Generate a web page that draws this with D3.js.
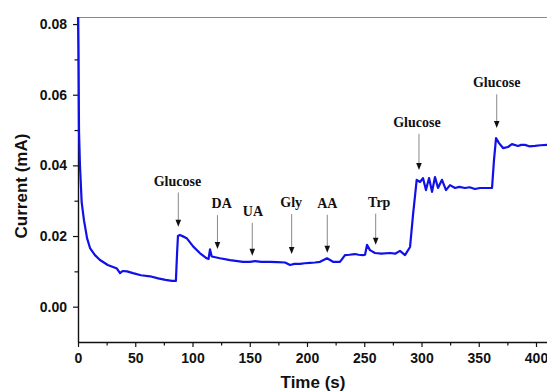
<!DOCTYPE html>
<html>
<head>
<meta charset="utf-8">
<script src="https://d3js.org/d3.v7.min.js"></script>
<style>
  body { margin: 0; background: #fff; }
  svg { display: block; }
  .tick text { font-family: Arial, "Liberation Sans", sans-serif; font-weight: bold; font-size: 14px; fill: #111; }
  .axis-title { font-family: Arial, "Liberation Sans", sans-serif; font-weight: bold; font-size: 17px; fill: #111; }
  .note { font-family: "Times New Roman", "Liberation Serif", serif; font-weight: bold; font-size: 14px; fill: #111; }
</style>
</head>
<body>
<svg id="chart" width="547" height="392"></svg>
<script>
// amperometric response
var time = [0, 0.4, 0.9, 1.7, 3.2, 5.2, 7.9, 10.5, 14.8, 19.2, 26, 34, 36.7, 39, 42.8, 48, 55, 62.9, 70, 76.4, 82, 85.5,
  86.5, 87.3, 89, 91.7, 94.9, 100.7, 106.6, 112.4, 114, 115.3, 116.8, 124, 132.8, 144.1, 150.2, 154.6, 160, 167.7,
  174, 180.8, 185.2, 189, 193.9, 198, 202.6, 207, 211.4, 217.5, 222.7, 228.8, 233.2, 237, 241.9, 245, 248.9, 250.7,
  252.4, 255, 259.4, 265, 272.5, 277, 281.2, 285.6, 290, 292.6, 295.8, 298.7, 301.3, 303.9, 306.6, 309.2, 311.8,
  314.4, 317.9, 321.4, 324.9, 329.3, 333, 338, 342, 346.7, 351, 355.5, 361.6, 363.3, 365.1, 367.7, 371.2, 375.5,
  379, 384.3, 387, 390.4, 394, 399.1, 404, 409.6, 415];
var current = [0.0820, 0.0721, 0.0494, 0.0401, 0.0296, 0.0245, 0.0194, 0.0166, 0.0146, 0.0132, 0.0118, 0.0108, 0.0095, 0.0101, 0.0100, 0.0095, 0.0089, 0.0086, 0.0080, 0.0076, 0.0073, 0.0073,
  0.0150, 0.0200, 0.0203, 0.0199, 0.0194, 0.0170, 0.0151, 0.0137, 0.0135, 0.0162, 0.0142, 0.0137, 0.0132, 0.0127, 0.0127, 0.0129, 0.0127, 0.0127,
  0.0126, 0.0125, 0.0118, 0.0121, 0.0121, 0.0123, 0.0124, 0.0125, 0.0127, 0.0137, 0.0127, 0.0127, 0.0146, 0.0147, 0.0149, 0.0147, 0.0146, 0.0147,
  0.0175, 0.0160, 0.0152, 0.0150, 0.0152, 0.0150, 0.0158, 0.0146, 0.0169, 0.0260, 0.0359, 0.0353, 0.0364, 0.0330, 0.0364, 0.0325, 0.0367,
  0.0336, 0.0359, 0.0330, 0.0344, 0.0336, 0.0339, 0.0336, 0.0338, 0.0333, 0.0336, 0.0336, 0.0336, 0.0415, 0.0477, 0.0463, 0.0449, 0.0452,
  0.0460, 0.0455, 0.0458, 0.0458, 0.0454, 0.0455, 0.0457, 0.0458, 0.0456];

// injections: label, arrow time, arrow tip, label centre time, label baseline
var noteNames = ["Glucose", "DA", "UA", "Gly", "AA", "Trp", "Glucose", "Glucose"];
var noteTime = [87.6, 121.8, 152.2, 186.6, 217.7, 260, 297.8, 365.7];
var noteTip = [0.0226, 0.0163, 0.0144, 0.0149, 0.0153, 0.0175, 0.0387, 0.0506];
var noteLabelTime = [86.8, 125.5, 152.8, 186.2, 217.7, 263.1, 296.0, 365.7];
var noteLabelValue = [0.0343, 0.0279, 0.0257, 0.0282, 0.0280, 0.0283, 0.0509, 0.0621];

var xTicks = [0, 50, 100, 150, 200, 250, 300, 350, 400];
var yTicks = [0.00, 0.02, 0.04, 0.06, 0.08];

var svg = d3.select("#chart");
var marginLeft = 78, plotTop = 17, plotBottom = 342;

var x = d3.scaleLinear().domain([0, 420]).range([marginLeft, marginLeft + 1.145 * 420]);
var y = d3.scaleLinear().domain([-0.01, 0.082]).range([plotBottom, plotTop]);

// top frame line
svg.append("line")
  .attr("x1", marginLeft).attr("x2", 560).attr("y1", plotTop + 0.5).attr("y2", plotTop + 0.5)
  .attr("stroke", "#8a8a8a").attr("stroke-width", 1.2);

// minor ticks
var xMinor = d3.range(25, 425, 50);
var yMinor = [0.01, 0.03, 0.05, 0.07];

svg.append("g")
  .attr("transform", "translate(0," + plotBottom + ")")
  .call(d3.axisBottom(x).tickValues(xMinor).tickSize(3.5).tickFormat(""))
  .call(function(g) { g.select(".domain").remove(); });
svg.append("g")
  .attr("transform", "translate(" + marginLeft + ",0)")
  .call(d3.axisLeft(y).tickValues(yMinor).tickSize(3.5).tickFormat(""))
  .call(function(g) { g.select(".domain").remove(); });

svg.append("g")
  .attr("transform", "translate(0," + plotBottom + ")")
  .call(d3.axisBottom(x).tickValues(xTicks).tickSize(5).tickPadding(6).tickSizeOuter(0).tickFormat(d3.format("d")));
svg.append("g")
  .attr("transform", "translate(" + marginLeft + ",0)")
  .call(d3.axisLeft(y).tickValues(yTicks).tickSize(5).tickPadding(6).tickSizeOuter(0).tickFormat(d3.format(".2f")));

svg.selectAll(".domain").attr("stroke", "#111").attr("stroke-width", 1.4);
svg.selectAll(".tick line").attr("stroke", "#111").attr("stroke-width", 1.2);

// axis titles
svg.append("text").attr("class", "axis-title")
  .attr("x", 313).attr("y", 388).attr("text-anchor", "middle")
  .text("Time (s)");
svg.append("text").attr("class", "axis-title")
  .attr("transform", "translate(27,186) rotate(-90)")
  .attr("text-anchor", "middle")
  .text("Current (mA)");

// curve
var pts = time.map(function(t, i) { return [t, current[i]]; });
var line = d3.line()
  .x(function(d) { return x(d[0]); })
  .y(function(d) { return y(d[1]); });

svg.append("path")
  .datum(pts)
  .attr("d", line)
  .attr("fill", "none")
  .attr("stroke", "#1010e8")
  .attr("stroke-width", 2.2)
  .attr("stroke-linejoin", "round");

// annotations
var notes = noteNames.map(function(n, i) {
  return { name: n, t: noteTime[i], tip: noteTip[i], lt: noteLabelTime[i], lv: noteLabelValue[i] };
});

var ng = svg.append("g").selectAll("g").data(notes).enter().append("g");

ng.append("line")
  .attr("x1", function(d) { return x(d.t); })
  .attr("x2", function(d) { return x(d.t); })
  .attr("y1", function(d) { return y(d.lv) + 7; })
  .attr("y2", function(d) { return y(d.tip) - 6; })
  .attr("stroke", "#888").attr("stroke-width", 1);

ng.append("path")
  .attr("d", function(d) {
    var cx = x(d.t), ty = y(d.tip);
    return "M" + (cx - 2.8) + "," + (ty - 7) + "L" + (cx + 2.8) + "," + (ty - 7) + "L" + cx + "," + ty + "Z";
  })
  .attr("fill", "#111");

ng.append("text").attr("class", "note")
  .attr("x", function(d) { return x(d.lt); })
  .attr("y", function(d) { return y(d.lv); })
  .attr("text-anchor", "middle")
  .text(function(d) { return d.name; });
</script>
</body>
</html>
